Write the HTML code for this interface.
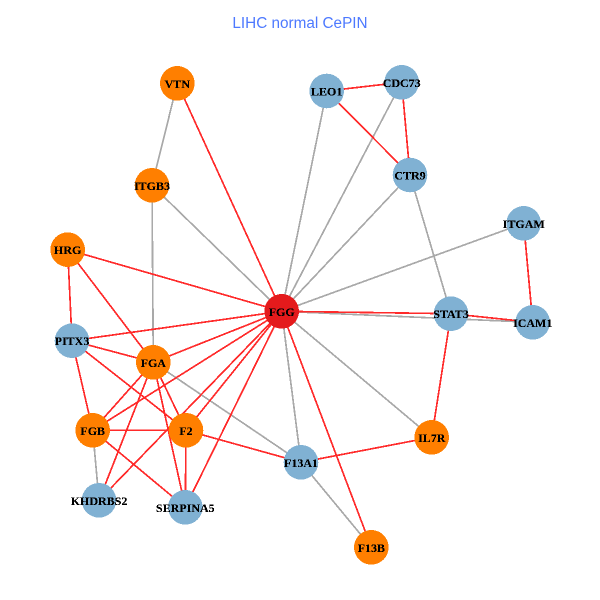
<!DOCTYPE html>
<html><head><meta charset="utf-8"><style>
html,body{margin:0;padding:0;background:#fff;width:600px;height:600px;overflow:hidden}
svg{display:block}
.e line{shape-rendering:crispEdges;stroke-width:1.7}
.r line{stroke:#ff2a2a}
.g line{stroke:#a9a9a9}
circle{shape-rendering:crispEdges}
.o{fill:#ff7f00}.b{fill:#80b1d3}
.l text{font-family:"Liberation Serif",serif;font-weight:bold;font-size:12px;text-anchor:middle;fill:#000}
</style></head><body>
<svg width="600" height="600" viewBox="0 0 600 600" xmlns="http://www.w3.org/2000/svg">
<defs><filter id="hard" filterUnits="userSpaceOnUse" x="0" y="0" width="600" height="600" color-interpolation-filters="sRGB"><feComponentTransfer><feFuncA type="discrete" tableValues="0 1 1"/></feComponentTransfer></filter></defs>
<text x="300" y="28" text-anchor="middle" font-family="Liberation Sans, sans-serif" font-size="15.3" fill="#4d79ff">LIHC normal CePIN</text>
<g class="e g">
<line x1="177.3" y1="83.3" x2="152" y2="185.3"/>
<line x1="152" y1="185.3" x2="281.7" y2="311.3"/>
<line x1="152" y1="185.3" x2="153.3" y2="362.3"/>
<line x1="92.7" y1="430.3" x2="99" y2="500.3"/>
<line x1="153.3" y1="362.3" x2="301" y2="462.3"/>
<line x1="281.7" y1="311.3" x2="326.7" y2="91"/>
<line x1="281.7" y1="311.3" x2="401.7" y2="82.3"/>
<line x1="281.7" y1="311.3" x2="410" y2="175"/>
<line x1="281.7" y1="311.3" x2="523.7" y2="223.3"/>
<line x1="281.7" y1="311.3" x2="532.7" y2="322.3"/>
<line x1="281.7" y1="311.3" x2="431.7" y2="437.3"/>
<line x1="281.7" y1="311.3" x2="301" y2="462.3"/>
<line x1="410" y1="175" x2="451" y2="313.7"/>
<line x1="301" y1="462.3" x2="371.3" y2="547.3"/>
</g>
<g class="e r">
<line x1="177.3" y1="83.3" x2="281.7" y2="311.3"/>
<line x1="67.7" y1="249.7" x2="281.7" y2="311.3"/>
<line x1="67.7" y1="249.7" x2="72" y2="340.7"/>
<line x1="67.7" y1="249.7" x2="153.3" y2="362.3"/>
<line x1="72" y1="340.7" x2="281.7" y2="311.3"/>
<line x1="72" y1="340.7" x2="153.3" y2="362.3"/>
<line x1="72" y1="340.7" x2="186" y2="430.3"/>
<line x1="72" y1="340.7" x2="92.7" y2="430.3"/>
<line x1="153.3" y1="362.3" x2="281.7" y2="311.3"/>
<line x1="153.3" y1="362.3" x2="92.7" y2="430.3"/>
<line x1="153.3" y1="362.3" x2="186" y2="430.3"/>
<line x1="153.3" y1="362.3" x2="99" y2="500.3"/>
<line x1="153.3" y1="362.3" x2="185.3" y2="507.3"/>
<line x1="92.7" y1="430.3" x2="281.7" y2="311.3"/>
<line x1="92.7" y1="430.3" x2="186" y2="430.3"/>
<line x1="92.7" y1="430.3" x2="185.3" y2="507.3"/>
<line x1="186" y1="430.3" x2="281.7" y2="311.3"/>
<line x1="186" y1="430.3" x2="185.3" y2="507.3"/>
<line x1="99" y1="500.3" x2="281.7" y2="311.3"/>
<line x1="186" y1="430.3" x2="301" y2="462.3"/>
<line x1="281.7" y1="311.3" x2="185.3" y2="507.3"/>
<line x1="281.7" y1="311.3" x2="371.3" y2="547.3"/>
<line x1="281.7" y1="311.3" x2="451" y2="313.7"/>
<line x1="451" y1="313.7" x2="532.7" y2="322.3"/>
<line x1="451" y1="313.7" x2="431.7" y2="437.3"/>
<line x1="523.7" y1="223.3" x2="532.7" y2="322.3"/>
<line x1="326.7" y1="91" x2="401.7" y2="82.3"/>
<line x1="326.7" y1="91" x2="410" y2="175"/>
<line x1="401.7" y1="82.3" x2="410" y2="175"/>
<line x1="431.7" y1="437.3" x2="301" y2="462.3"/>
</g>
<g>
<circle cx="177.3" cy="83.3" r="17.3" class="o"/>
<circle cx="152" cy="185.3" r="17.3" class="o"/>
<circle cx="67.7" cy="249.7" r="17.3" class="o"/>
<circle cx="326.7" cy="91" r="17.3" class="b"/>
<circle cx="401.7" cy="82.3" r="17.3" class="b"/>
<circle cx="410" cy="175" r="17.3" class="b"/>
<circle cx="523.7" cy="223.3" r="17.3" class="b"/>
<circle cx="281.7" cy="311.3" r="17.3" fill="#e41a1c"/>
<circle cx="451" cy="313.7" r="17.3" class="b"/>
<circle cx="532.7" cy="322.3" r="17.3" class="b"/>
<circle cx="431.7" cy="437.3" r="17.3" class="o"/>
<circle cx="301" cy="462.3" r="17.3" class="b"/>
<circle cx="371.3" cy="547.3" r="17.3" class="o"/>
<circle cx="72" cy="340.7" r="17.3" class="b"/>
<circle cx="153.3" cy="362.3" r="17.3" class="o"/>
<circle cx="92.7" cy="430.3" r="17.3" class="o"/>
<circle cx="186" cy="430.3" r="17.3" class="o"/>
<circle cx="99" cy="500.3" r="17.3" class="b"/>
<circle cx="185.3" cy="507.3" r="17.3" class="b"/>
</g>
<g class="l" filter="url(#hard)">
<text x="177.3" y="88">VTN</text>
<text x="152" y="190">ITGB3</text>
<text x="67.7" y="254">HRG</text>
<text x="326.7" y="95.5">LEO1</text>
<text x="401.7" y="87">CDC73</text>
<text x="410" y="179.5">CTR9</text>
<text x="523.7" y="228">ITGAM</text>
<text x="281.7" y="316">FGG</text>
<text x="451" y="318">STAT3</text>
<text x="532.7" y="327">ICAM1</text>
<text x="431.7" y="442">IL7R</text>
<text x="301" y="467">F13A1</text>
<text x="371.3" y="552">F13B</text>
<text x="72" y="345">PITX3</text>
<text x="153.3" y="367">FGA</text>
<text x="92.7" y="435">FGB</text>
<text x="186" y="435">F2</text>
<text x="99" y="505">KHDRBS2</text>
<text x="185.3" y="512">SERPINA5</text>
</g>
</svg>
</body></html>
